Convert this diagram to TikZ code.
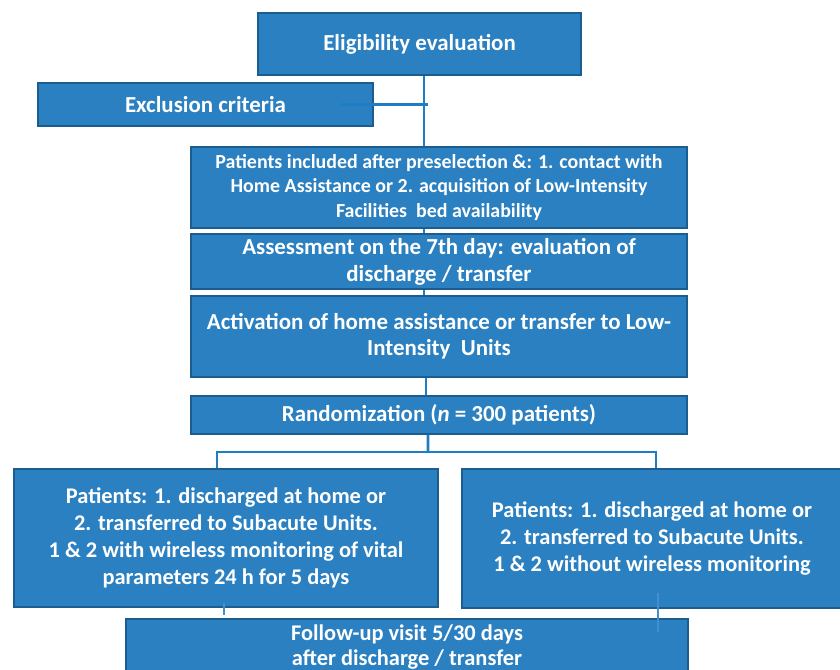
\documentclass[tikz,border=0pt]{standalone}
\usepackage{fontspec}
\setmainfont{Carlito}
\usetikzlibrary{calc}

\definecolor{boxfill}{HTML}{2A80C0}
\definecolor{boxline}{HTML}{1B5D8E}
\definecolor{linkblue}{HTML}{1F7DC4}

\tikzset{
  flowbox/.style={draw=boxline, line width=1.6bp, fill=boxfill, text=white,
    inner sep=0pt, align=center, font=\bfseries},
  link/.style={draw=linkblue, line width=2.6bp}
}

\begin{document}
\begin{tikzpicture}[x=1bp, y=-1bp]
                \useasboundingbox (0,0) rectangle (840,670);
                \coordinate (spine) at (424,0);

                \node[flowbox, minimum width=323bp, minimum height=62bp, font=\bfseries\fontsize{23}{26}\selectfont] (elig) at (419.5,44) {Eligibility evaluation};
                \node[flowbox, minimum width=335bp, minimum height=43bp, font=\bfseries\fontsize{23}{26}\selectfont] (excl) at (205.5,104.5) {Exclusion criteria};
                \node[flowbox, minimum width=496bp, minimum height=81bp, font=\bfseries\fontsize{20}{24.5}\selectfont] (incl) at (439,187.5) {Patients included after preselection \&: 1. contact with\\Home Assistance or 2. acquisition of Low-Intensity\\Facilities\ \ bed availability};
                \node[flowbox, minimum width=496bp, minimum height=55bp, font=\bfseries\fontsize{23}{27}\selectfont] (assess) at (439,261.5) {Assessment on the 7th day: evaluation of\\discharge / transfer};
                \node[flowbox, minimum width=496bp, minimum height=81bp, font=\bfseries\fontsize{23}{26.5}\selectfont] (activ) at (439,336.5) {Activation of home assistance or transfer to Low-\\Intensity\ \ Units};
                \node[flowbox, minimum width=496bp, minimum height=38bp, font=\bfseries\fontsize{23}{26}\selectfont] (rand) at (439,415) {Randomization (\textit{n} = 300 patients)};
                \node[flowbox, minimum width=424bp, minimum height=138bp, font=\bfseries\fontsize{22.5}{27}\selectfont] (wire) at (226,538) {Patients: 1. discharged at home or\\2. transferred to Subacute Units.\\1 \& 2 with wireless monitoring of vital\\parameters 24 h for 5 days};
                \node[flowbox, minimum width=380bp, minimum height=139bp, font=\bfseries\fontsize{22.5}{27}\selectfont] (nowire) at (652,538.5) {Patients: 1. discharged at home or\\2. transferred to Subacute Units.\\1 \& 2 without wireless monitoring};
                \node[flowbox, minimum width=562bp, minimum height=56bp, font=\bfseries\fontsize{22.5}{26}\selectfont] (follow) at (407,647) {Follow-up visit 5/30 days\\after discharge / transfer};

                \draw[link] (elig.south -| spine) -- (incl.north -| spine);
                \draw[link] ([xshift=-33bp]excl.east) -- ([xshift=4bp]excl.east -| spine);
                \draw[link] (incl.south -| spine) -- (assess.north -| spine);
                \draw[link] (assess.south -| spine) -- (activ.north -| spine);
                \draw[link] ([xshift=-13bp]activ.south) -- ([xshift=-13bp]rand.north);
                \coordinate (split) at ($(rand.south)+(-11,17)$);
                \draw[link] ([xshift=-11bp]rand.south) -- (split);
                \draw[link] (wire.north -| 217,0) |- (split) -| (nowire.north -| 656,0);
                \draw[link, draw=linkblue!85!white] ([yshift=-7bp]wire.south -| 224,0) -- ([yshift=15bp]follow.north -| 224,0);
                \draw[link, draw=linkblue!85!white] ([yshift=-23bp]nowire.south -| 658,0) -- ([yshift=25bp]follow.north -| 658,0);
            \end{tikzpicture}
\end{document}
